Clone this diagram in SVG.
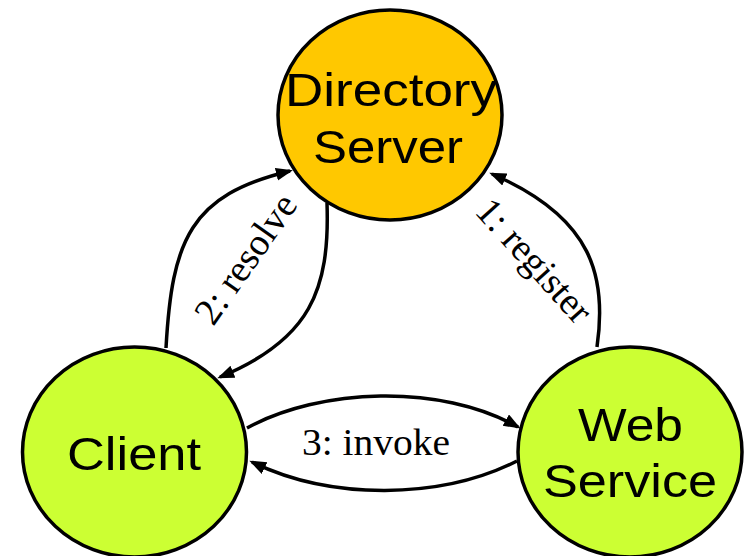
<svg xmlns="http://www.w3.org/2000/svg" width="748" height="556" viewBox="0 0 748 556">
  <style>
    .node { stroke: #000; stroke-width: 3.5; }
    .dir { fill: #FFC800; }
    .svc { fill: #CCFF33; }
    .ntext { font-family: "Liberation Sans", Arial, sans-serif; font-size: 46px; fill: #000; text-anchor: middle; }
    .edge { fill: none; stroke: #000; stroke-width: 3.5; marker-end: url(#arrow); }
    .elabel { font-family: "Liberation Serif", "Times New Roman", serif; font-size: 38px; fill: #000; text-anchor: middle; }
  </style>
  <defs>
    <marker id="arrow" markerUnits="userSpaceOnUse" markerWidth="20" markerHeight="14" refX="14" refY="6.5" orient="auto">
      <path d="M0,0 L17,6.5 L0,13 z" fill="#000"/>
    </marker>
  </defs>

  <rect width="748" height="556" fill="#fff"/>

  <g id="directory-server">
    <ellipse class="node dir" cx="390" cy="115" rx="112" ry="105"/>
    <text class="ntext" x="391" y="106" textLength="212" lengthAdjust="spacingAndGlyphs">Directory</text>
    <text class="ntext" x="388" y="163" textLength="150" lengthAdjust="spacingAndGlyphs">Server</text>
  </g>

  <g id="client">
    <ellipse class="node svc" cx="134.5" cy="452" rx="112" ry="105"/>
    <text class="ntext" x="134" y="470" textLength="134" lengthAdjust="spacingAndGlyphs">Client</text>
  </g>

  <g id="web-service">
    <ellipse class="node svc" cx="630" cy="452" rx="112" ry="105"/>
    <text class="ntext" x="630.5" y="441" textLength="105" lengthAdjust="spacingAndGlyphs">Web</text>
    <text class="ntext" x="630" y="497" textLength="174" lengthAdjust="spacingAndGlyphs">Service</text>
  </g>

  <g id="connectors">
    <!-- 2: resolve, client up to directory, then reply back down -->
    <path class="edge" d="M166,348 C172,240 190,195 290,171"/>
    <path class="edge" d="M327,203 C330,290 310,340 220,377"/>
    <!-- 1: register, web service up to directory -->
    <path class="edge" d="M597,347 C607,278 594,218 492,174"/>
    <!-- 3: invoke, client to web service and back -->
    <path class="edge" d="M247,428 C320,388 440,383 518,427"/>
    <path class="edge" d="M517,461 C440,500 330,500 252,462"/>

    <text class="elabel" transform="translate(256,266) rotate(-55)">2: resolve</text>
    <text class="elabel" transform="translate(525,269) rotate(48)">1: register</text>
    <text class="elabel" x="376" y="455" textLength="148" lengthAdjust="spacingAndGlyphs">3: invoke</text>
  </g>
</svg>
